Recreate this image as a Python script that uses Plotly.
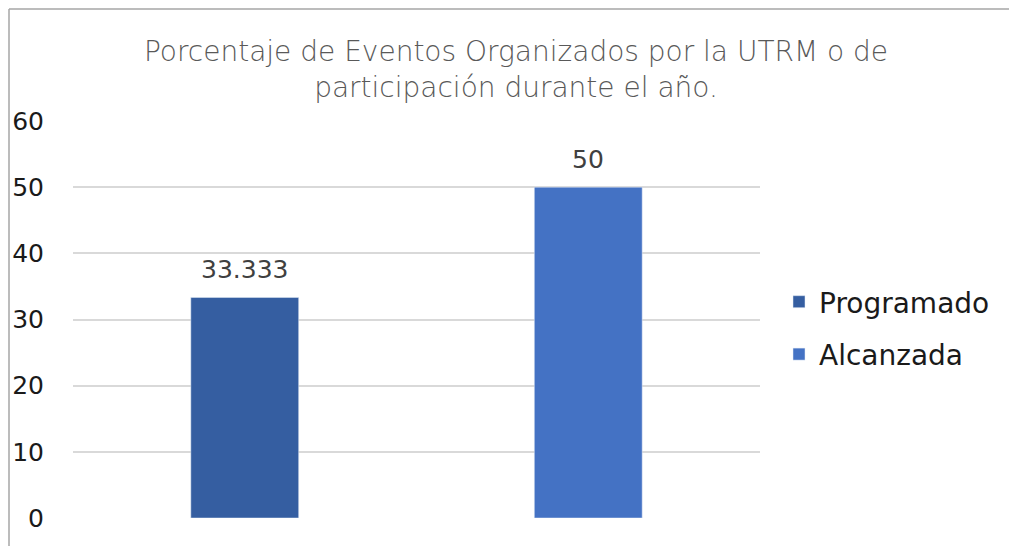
import plotly.graph_objects as go

series_names = ['Programado', 'Alcanzada']
series_values = [33.333, 50]
series_labels = ['33.333', '50']
series_colors = ['#355EA1', '#4472C4']
y_ticks = [0, 10, 20, 30, 40, 50, 60]

title_text = 'Porcentaje de Eventos Organizados por la UTRM o de<br>participación durante el año.'

FONT = 'DejaVu Sans'

# plot area in pixels: x 73..760, y 121..518
W, H = 1009, 546
L, R, T, B = 73, 760, 121, 518


def px_x(p):
    return (p - L) / (R - L)


def px_y(p):
    return (B - p) / (B - T)


fig = go.Figure(
    data=[
        go.Bar(name=name, x=[name], y=[val], marker_color=col, width=0.314,
               legendgroup=name)
        for name, val, col in zip(series_names, series_values, series_colors)
    ]
)

# value labels above the bars
for name, val, lbl in zip(series_names, series_values, series_labels):
    fig.add_annotation(x=name, y=val, text=lbl, showarrow=False, yshift=28,
                       yanchor='middle',
                       font=dict(size=25, color='#404040', family=FONT))

fig.update_layout(
    width=W, height=H, autosize=False,
    margin=dict(l=L, r=W - R, t=T, b=H - B, pad=0),
    paper_bgcolor='white', plot_bgcolor='white',
    barmode='overlay',
    title=dict(text=title_text, x=px_x(516), xref='paper', xanchor='center',
               y=1 - 61 / H, yanchor='middle',
               font=dict(size=28, color='#595959', family=FONT, weight=300)),
    showlegend=True,
    legend=dict(x=px_x(779), y=px_y(328), xanchor='left', yanchor='middle',
                font=dict(size=28, color='#1a1a1a', family=FONT),
                traceorder='grouped', itemwidth=30, tracegroupgap=13,
                bgcolor='rgba(0,0,0,0)'),
    xaxis=dict(showticklabels=False, showgrid=False, zeroline=False, showline=False,
               ticks=''),
    yaxis=dict(range=[0, 60], tickvals=y_ticks, showgrid=True, gridcolor='#D9D9D9',
               gridwidth=1.5, zeroline=False, showline=False, ticks='',
               tickfont=dict(size=25, color='#1a1a1a', family=FONT), ticklabelstandoff=28),
    shapes=[
        dict(type='line', xref='paper', yref='paper', x0=px_x(9), x1=px_x(1015),
             y0=px_y(9), y1=px_y(9), line=dict(color='#A6A6A6', width=1.5)),
        dict(type='line', xref='paper', yref='paper', x0=px_x(9), x1=px_x(9),
             y0=px_y(9), y1=px_y(560), line=dict(color='#A6A6A6', width=1.5)),
    ],
)

fig.write_html('out.html', config={'displayModeBar': False},
               post_script="document.body.style.margin='0';")
